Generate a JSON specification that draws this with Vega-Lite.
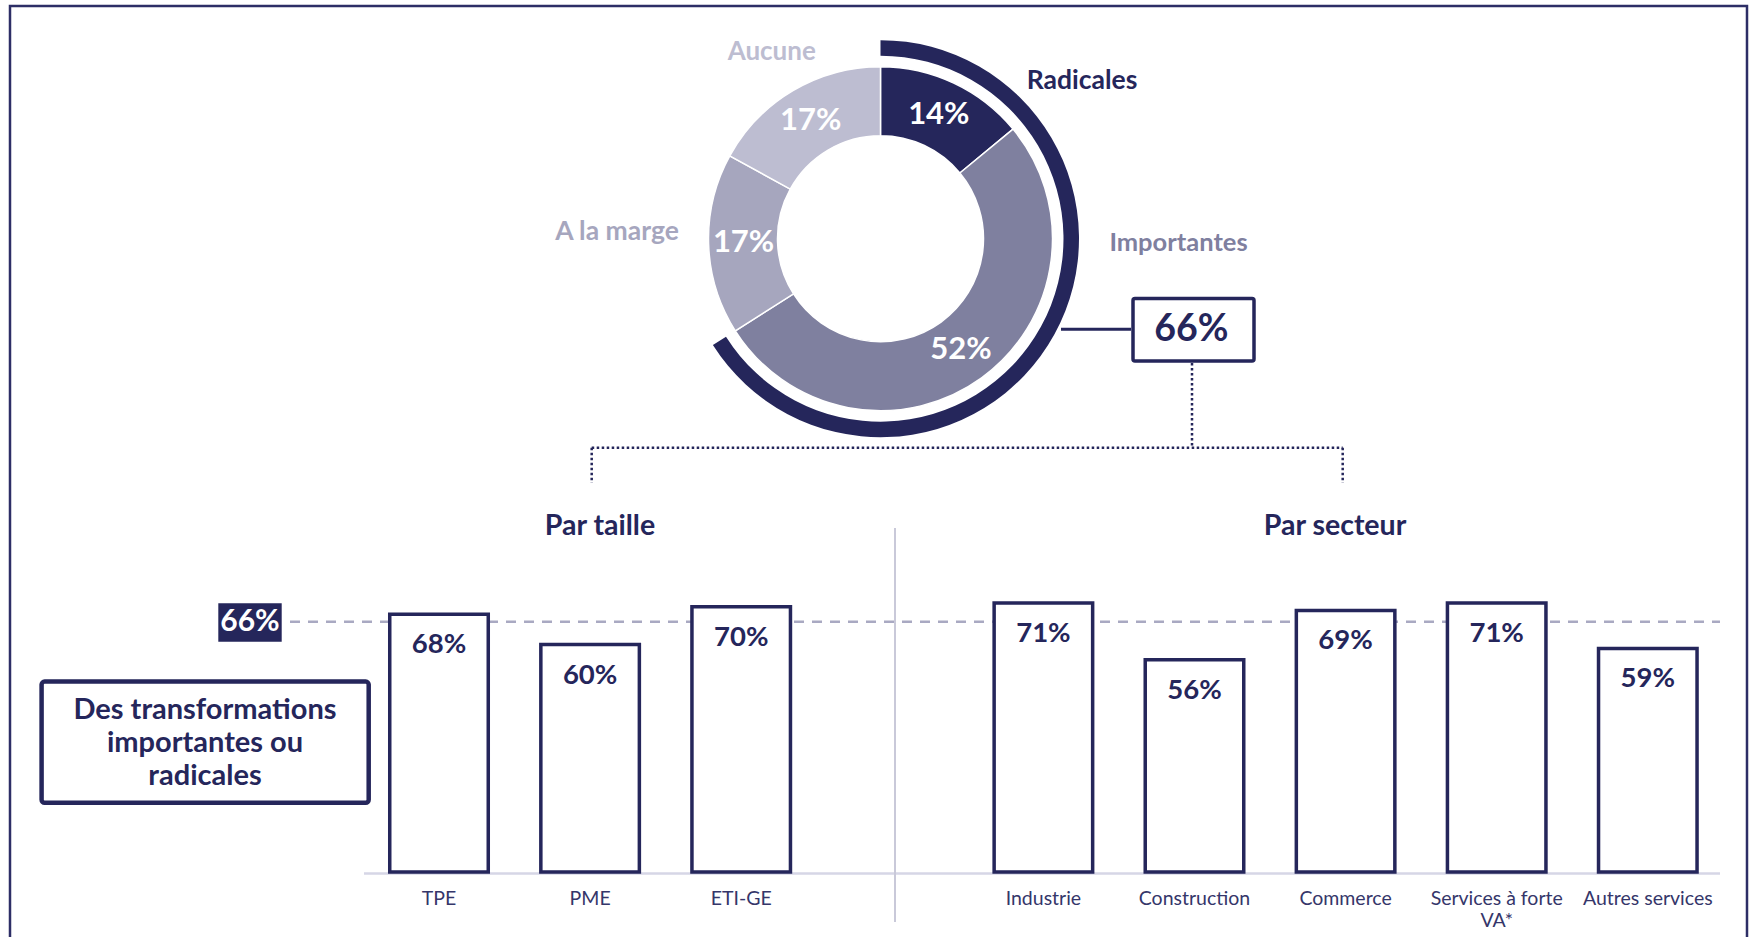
{
  "$schema": "https://vega.github.io/schema/vega-lite/v6.json",
  "width": 1755,
  "height": 937,
  "autosize": {"type": "fit", "contains": "padding"},
  "padding": 0,
  "background": "white",
  "config": {"view": {"stroke": null}, "font": "Lato", "text": {"font": "Lato"}},
  "datasets": {
    "repartition": [
      {"reponse": "Radicales", "part": 0.14, "rang": 1},
      {"reponse": "Importantes", "part": 0.52, "rang": 2},
      {"reponse": "A la marge", "part": 0.17, "rang": 3},
      {"reponse": "Aucune", "part": 0.17, "rang": 4}
    ],
    "transformation": [
      {"groupe": "Par taille", "cat": "TPE", "val": 0.68},
      {"groupe": "Par taille", "cat": "PME", "val": 0.60},
      {"groupe": "Par taille", "cat": "ETI-GE", "val": 0.70},
      {"groupe": "Par secteur", "cat": "Industrie", "val": 0.71},
      {"groupe": "Par secteur", "cat": "Construction", "val": 0.56},
      {"groupe": "Par secteur", "cat": "Commerce", "val": 0.69},
      {"groupe": "Par secteur", "cat": "Services à forte\nVA*", "val": 0.71},
      {"groupe": "Par secteur", "cat": "Autres services", "val": 0.59}
    ],
    "cadre": [{}]
  },
  "resolve": {"scale": {"x": "independent"}},
  "layer": [
    {
      "layer": [
        {
          "data": {"name": "cadre"},
          "mark": {"type": "rect", "fill": "transparent", "stroke": "#2d2e66", "strokeWidth": 2.5, "clip": true},
          "encoding": {
            "x": {"datum": -2.8392, "type": "quantitative", "scale": {"domain": [-2.90536, 8.70946], "nice": false, "zero": false}, "axis": null},
            "x2": {"datum": 8.6565},
            "y": {"datum": 2.285, "type": "quantitative", "scale": {"domain": [-0.171504, 2.300792], "nice": false, "zero": false}, "axis": null},
            "y2": {"datum": -0.25}
          }
        },
        {
          "data": {"name": "cadre"},
          "mark": {"type": "rule", "stroke": "#d6d6e6", "strokeWidth": 2.5},
          "encoding": {
            "x": {"datum": -0.4964, "type": "quantitative", "scale": {"domain": [-2.90536, 8.70946], "nice": false, "zero": false}, "axis": null},
            "x2": {"datum": 8.4778},
            "y": {"datum": -0.004, "type": "quantitative", "scale": {"domain": [-0.171504, 2.300792], "nice": false, "zero": false}, "axis": null}
          }
        },
        {
          "data": {"name": "cadre"},
          "mark": {"type": "rule", "stroke": "#c9c9d9", "strokeWidth": 2},
          "encoding": {
            "x": {"datum": 3.0179, "type": "quantitative", "scale": {"domain": [-2.90536, 8.70946], "nice": false, "zero": false}, "axis": null},
            "y": {"datum": 0.90765, "type": "quantitative", "scale": {"domain": [-0.171504, 2.300792], "nice": false, "zero": false}, "axis": null},
            "y2": {"datum": -0.13193}
          }
        },
        {
          "data": {"name": "repartition"},
          "transform": [{"filter": "datum.rang <= 2"}, {"aggregate": [{"op": "sum", "field": "part", "as": "total"}]}],
          "mark": {"type": "rule", "stroke": "#a9a9c2", "strokeWidth": 2.5, "strokeDash": [10, 8]},
          "encoding": {
            "x": {"datum": -0.9861, "type": "quantitative", "scale": {"domain": [-2.90536, 8.70946], "nice": false, "zero": false}, "axis": null},
            "x2": {"datum": 8.4778},
            "y": {"field": "total", "type": "quantitative", "scale": {"domain": [-0.171504, 2.300792], "nice": false, "zero": false}, "axis": null}
          }
        },
        {
          "data": {"name": "cadre"},
          "mark": {"type": "rect", "fill": "#25265b"},
          "encoding": {
            "x": {"datum": -1.4606, "type": "quantitative", "scale": {"domain": [-2.90536, 8.70946], "nice": false, "zero": false}, "axis": null},
            "x2": {"datum": -1.041},
            "y": {"datum": 0.709, "type": "quantitative", "scale": {"domain": [-0.171504, 2.300792], "nice": false, "zero": false}, "axis": null},
            "y2": {"datum": 0.6077}
          }
        },
        {
          "data": {"name": "repartition"},
          "transform": [{"filter": "datum.rang <= 2"}, {"aggregate": [{"op": "sum", "field": "part", "as": "total"}]}],
          "mark": {"type": "text", "fontSize": 30, "fontWeight": "bold", "color": "white", "align": "center", "baseline": "middle"},
          "encoding": {
            "x": {"datum": -1.2508, "type": "quantitative", "scale": {"domain": [-2.90536, 8.70946], "nice": false, "zero": false}, "axis": null},
            "y": {"field": "total", "type": "quantitative", "scale": {"domain": [-0.171504, 2.300792], "nice": false, "zero": false}, "axis": null},
            "text": {"field": "total", "type": "quantitative", "format": ".0%"}
          }
        },
        {
          "data": {"name": "cadre"},
          "mark": {"type": "rect", "fill": "white", "stroke": "#25265b", "strokeWidth": 4.5, "cornerRadius": 3},
          "encoding": {
            "x": {"datum": -2.6301, "type": "quantitative", "scale": {"domain": [-2.90536, 8.70946], "nice": false, "zero": false}, "axis": null},
            "x2": {"datum": -0.4653},
            "y": {"datum": 0.50237, "type": "quantitative", "scale": {"domain": [-0.171504, 2.300792], "nice": false, "zero": false}, "axis": null},
            "y2": {"datum": 0.18285}
          }
        },
        {
          "data": {"name": "cadre"},
          "mark": {"type": "text", "text": ["Des transformations", "importantes ou", "radicales"], "fontSize": 29, "fontWeight": "bold", "color": "#25265b", "align": "center", "baseline": "middle", "lineHeight": 33},
          "encoding": {
            "x": {"datum": -1.5486, "type": "quantitative", "scale": {"domain": [-2.90536, 8.70946], "nice": false, "zero": false}, "axis": null},
            "y": {"datum": 0.4274, "type": "quantitative", "scale": {"domain": [-0.171504, 2.300792], "nice": false, "zero": false}, "axis": null}
          }
        },
        {
          "data": {"name": "cadre"},
          "mark": {"type": "text", "text": "Par taille", "fontSize": 28.5, "fontWeight": "bold", "color": "#25265b", "align": "center", "baseline": "middle"},
          "encoding": {
            "x": {"datum": 1.0655, "type": "quantitative", "scale": {"domain": [-2.90536, 8.70946], "nice": false, "zero": false}, "axis": null},
            "y": {"datum": 0.91293, "type": "quantitative", "scale": {"domain": [-0.171504, 2.300792], "nice": false, "zero": false}, "axis": null}
          }
        },
        {
          "data": {"name": "cadre"},
          "mark": {"type": "text", "text": "Par secteur", "fontSize": 28.5, "fontWeight": "bold", "color": "#25265b", "align": "center", "baseline": "middle"},
          "encoding": {
            "x": {"datum": 5.930, "type": "quantitative", "scale": {"domain": [-2.90536, 8.70946], "nice": false, "zero": false}, "axis": null},
            "y": {"datum": 0.91293, "type": "quantitative", "scale": {"domain": [-0.171504, 2.300792], "nice": false, "zero": false}, "axis": null}
          }
        },
        {
          "data": {"name": "cadre"},
          "mark": {"type": "rule", "stroke": "#25265b", "strokeWidth": 2.5, "strokeDash": [2.5, 2.5]},
          "encoding": {
            "x": {"datum": 4.9835, "type": "quantitative", "scale": {"domain": [-2.90536, 8.70946], "nice": false, "zero": false}, "axis": null},
            "y": {"datum": 1.34301, "type": "quantitative", "scale": {"domain": [-0.171504, 2.300792], "nice": false, "zero": false}, "axis": null},
            "y2": {"datum": 1.11953}
          }
        },
        {
          "data": {"name": "cadre"},
          "mark": {"type": "rule", "stroke": "#25265b", "strokeWidth": 2.5, "strokeDash": [2.5, 2.5]},
          "encoding": {
            "x": {"datum": 1.0106, "type": "quantitative", "scale": {"domain": [-2.90536, 8.70946], "nice": false, "zero": false}, "axis": null},
            "x2": {"datum": 5.9808},
            "y": {"datum": 1.11953, "type": "quantitative", "scale": {"domain": [-0.171504, 2.300792], "nice": false, "zero": false}, "axis": null}
          }
        },
        {
          "data": {"name": "cadre"},
          "mark": {"type": "rule", "stroke": "#25265b", "strokeWidth": 2.5, "strokeDash": [2.5, 2.5]},
          "encoding": {
            "x": {"datum": 1.0106, "type": "quantitative", "scale": {"domain": [-2.90536, 8.70946], "nice": false, "zero": false}, "axis": null},
            "y": {"datum": 1.11953, "type": "quantitative", "scale": {"domain": [-0.171504, 2.300792], "nice": false, "zero": false}, "axis": null},
            "y2": {"datum": 1.02639}
          }
        },
        {
          "data": {"name": "cadre"},
          "mark": {"type": "rule", "stroke": "#25265b", "strokeWidth": 2.5, "strokeDash": [2.5, 2.5]},
          "encoding": {
            "x": {"datum": 5.9808, "type": "quantitative", "scale": {"domain": [-2.90536, 8.70946], "nice": false, "zero": false}, "axis": null},
            "y": {"datum": 1.11953, "type": "quantitative", "scale": {"domain": [-0.171504, 2.300792], "nice": false, "zero": false}, "axis": null},
            "y2": {"datum": 1.02639}
          }
        },
        {
          "data": {"name": "cadre"},
          "mark": {"type": "rule", "stroke": "#25265b", "strokeWidth": 3},
          "encoding": {
            "x": {"datum": 4.1165, "type": "quantitative", "scale": {"domain": [-2.90536, 8.70946], "nice": false, "zero": false}, "axis": null},
            "x2": {"datum": 4.5798},
            "y": {"datum": 1.43193, "type": "quantitative", "scale": {"domain": [-0.171504, 2.300792], "nice": false, "zero": false}, "axis": null}
          }
        },
        {
          "data": {"name": "cadre"},
          "mark": {"type": "rect", "fill": "white", "stroke": "#25265b", "strokeWidth": 3.5, "cornerRadius": 2},
          "encoding": {
            "x": {"datum": 4.593, "type": "quantitative", "scale": {"domain": [-2.90536, 8.70946], "nice": false, "zero": false}, "axis": null},
            "x2": {"datum": 5.3938},
            "y": {"datum": 1.51319, "type": "quantitative", "scale": {"domain": [-0.171504, 2.300792], "nice": false, "zero": false}, "axis": null},
            "y2": {"datum": 1.34828}
          }
        },
        {
          "data": {"name": "repartition"},
          "transform": [{"filter": "datum.rang <= 2"}, {"aggregate": [{"op": "sum", "field": "part", "as": "total"}]}],
          "mark": {"type": "text", "fontSize": 37.5, "fontWeight": "bold", "color": "#25265b", "align": "center", "baseline": "middle"},
          "encoding": {
            "x": {"datum": 4.98, "type": "quantitative", "scale": {"domain": [-2.90536, 8.70946], "nice": false, "zero": false}, "axis": null},
            "y": {"datum": 1.43074, "type": "quantitative", "scale": {"domain": [-0.171504, 2.300792], "nice": false, "zero": false}, "axis": null},
            "text": {"field": "total", "type": "quantitative", "format": ".0%"}
          }
        },
        {
          "data": {"name": "repartition"},
          "mark": {"type": "arc", "innerRadius": 103, "outerRadius": 172, "stroke": "white", "strokeWidth": 1.5},
          "encoding": {
            "x": {"datum": 2.9219, "type": "quantitative", "scale": {"domain": [-2.90536, 8.70946], "nice": false, "zero": false}, "axis": null},
            "y": {"datum": 1.67098, "type": "quantitative", "scale": {"domain": [-0.171504, 2.300792], "nice": false, "zero": false}, "axis": null},
            "theta": {"field": "part", "type": "quantitative", "stack": true},
            "order": {"field": "rang", "type": "quantitative"},
            "color": {"field": "reponse", "type": "nominal", "scale": {"domain": ["Radicales", "Importantes", "A la marge", "Aucune"], "range": ["#25265b", "#7f809f", "#a6a6be", "#bdbdd1"]}, "legend": null}
          }
        },
        {
          "data": {"name": "repartition"},
          "transform": [{"filter": "datum.rang <= 2"}, {"aggregate": [{"op": "sum", "field": "part", "as": "total"}]}],
          "mark": {"type": "arc", "innerRadius": 183, "outerRadius": 198.5, "color": "#25265b"},
          "encoding": {
            "x": {"datum": 2.9219, "type": "quantitative", "scale": {"domain": [-2.90536, 8.70946], "nice": false, "zero": false}, "axis": null},
            "y": {"datum": 1.67098, "type": "quantitative", "scale": {"domain": [-0.171504, 2.300792], "nice": false, "zero": false}, "axis": null},
            "theta": {"field": "total", "type": "quantitative", "stack": true}
          }
        },
        {
          "data": {"name": "repartition"},
          "mark": {"type": "text", "radius": 137, "fontSize": 31, "fontWeight": "bold", "color": "white", "align": "center", "baseline": "middle"},
          "encoding": {
            "x": {"datum": 2.9219, "type": "quantitative", "scale": {"domain": [-2.90536, 8.70946], "nice": false, "zero": false}, "axis": null},
            "y": {"datum": 1.67098, "type": "quantitative", "scale": {"domain": [-0.171504, 2.300792], "nice": false, "zero": false}, "axis": null},
            "theta": {"field": "part", "type": "quantitative", "stack": true},
            "order": {"field": "rang", "type": "quantitative"},
            "text": {"field": "part", "type": "quantitative", "format": ".0%"}
          }
        },
        {
          "data": {"name": "repartition"},
          "transform": [{"filter": "datum.reponse == 'Aucune'"}],
          "mark": {"type": "text", "fontSize": 26, "fontWeight": "bold", "align": "center", "baseline": "middle"},
          "encoding": {
            "x": {"datum": 2.2019, "type": "quantitative", "scale": {"domain": [-2.90536, 8.70946], "nice": false, "zero": false}, "axis": null},
            "y": {"datum": 2.16438, "type": "quantitative", "scale": {"domain": [-0.171504, 2.300792], "nice": false, "zero": false}, "axis": null},
            "text": {"field": "reponse"},
            "color": {"field": "reponse", "type": "nominal", "scale": {"domain": ["Radicales", "Importantes", "A la marge", "Aucune"], "range": ["#25265b", "#7f809f", "#a6a6be", "#bdbdd1"]}, "legend": null}
          }
        },
        {
          "data": {"name": "repartition"},
          "transform": [{"filter": "datum.reponse == 'Radicales'"}],
          "mark": {"type": "text", "fontSize": 26.5, "fontWeight": "bold", "align": "center", "baseline": "middle"},
          "encoding": {
            "x": {"datum": 4.2555, "type": "quantitative", "scale": {"domain": [-2.90536, 8.70946], "nice": false, "zero": false}, "axis": null},
            "y": {"datum": 2.08786, "type": "quantitative", "scale": {"domain": [-0.171504, 2.300792], "nice": false, "zero": false}, "axis": null},
            "text": {"field": "reponse"},
            "color": {"field": "reponse", "type": "nominal", "scale": {"domain": ["Radicales", "Importantes", "A la marge", "Aucune"], "range": ["#25265b", "#7f809f", "#a6a6be", "#bdbdd1"]}, "legend": null}
          }
        },
        {
          "data": {"name": "repartition"},
          "transform": [{"filter": "datum.reponse == 'Importantes'"}],
          "mark": {"type": "text", "fontSize": 25.5, "fontWeight": "bold", "align": "center", "baseline": "middle"},
          "encoding": {
            "x": {"datum": 4.8941, "type": "quantitative", "scale": {"domain": [-2.90536, 8.70946], "nice": false, "zero": false}, "axis": null},
            "y": {"datum": 1.66042, "type": "quantitative", "scale": {"domain": [-0.171504, 2.300792], "nice": false, "zero": false}, "axis": null},
            "text": {"field": "reponse"},
            "color": {"field": "reponse", "type": "nominal", "scale": {"domain": ["Radicales", "Importantes", "A la marge", "Aucune"], "range": ["#25265b", "#7f809f", "#a6a6be", "#bdbdd1"]}, "legend": null}
          }
        },
        {
          "data": {"name": "repartition"},
          "transform": [{"filter": "datum.reponse == 'A la marge'"}],
          "mark": {"type": "text", "fontSize": 26.5, "fontWeight": "bold", "align": "center", "baseline": "middle"},
          "encoding": {
            "x": {"datum": 1.178, "type": "quantitative", "scale": {"domain": [-2.90536, 8.70946], "nice": false, "zero": false}, "axis": null},
            "y": {"datum": 1.68945, "type": "quantitative", "scale": {"domain": [-0.171504, 2.300792], "nice": false, "zero": false}, "axis": null},
            "text": {"field": "reponse"},
            "color": {"field": "reponse", "type": "nominal", "scale": {"domain": ["Radicales", "Importantes", "A la marge", "Aucune"], "range": ["#25265b", "#7f809f", "#a6a6be", "#bdbdd1"]}, "legend": null}
          }
        }
      ]
    },
    {
      "data": {"name": "transformation"},
      "layer": [
        {
          "mark": {"type": "bar", "fill": "white", "stroke": "#25265b", "strokeWidth": 3.5},
          "encoding": {
            "x": {"field": "cat", "type": "nominal", "scale": {"type": "band", "domain": [" ", "TPE", "PME", "ETI-GE", "  ", "Industrie", "Construction", "Commerce", "Services à forte\nVA*", "Autres services"], "paddingInner": 0.348, "paddingOuter": 0.9815, "align": 0.8046}, "axis": null},
            "y": {"field": "val", "type": "quantitative", "scale": {"domain": [-0.171504, 2.300792], "nice": false, "zero": false}, "axis": null}
          }
        },
        {
          "mark": {"type": "text", "fontSize": 27.5, "fontWeight": "bold", "color": "#25265b", "align": "center", "baseline": "middle", "dy": 31},
          "encoding": {
            "x": {"field": "cat", "type": "nominal", "scale": {"type": "band", "domain": [" ", "TPE", "PME", "ETI-GE", "  ", "Industrie", "Construction", "Commerce", "Services à forte\nVA*", "Autres services"], "paddingInner": 0.348, "paddingOuter": 0.9815, "align": 0.8046}, "axis": null},
            "y": {"field": "val", "type": "quantitative", "scale": {"domain": [-0.171504, 2.300792], "nice": false, "zero": false}, "axis": null},
            "text": {"field": "val", "type": "quantitative", "format": ".0%"}
          }
        },
        {
          "mark": {"type": "text", "fontSize": 19.5, "color": "#35366a", "align": "center", "baseline": "top", "lineBreak": "\n", "lineHeight": 22},
          "encoding": {
            "x": {"field": "cat", "type": "nominal", "scale": {"type": "band", "domain": [" ", "TPE", "PME", "ETI-GE", "  ", "Industrie", "Construction", "Commerce", "Services à forte\nVA*", "Autres services"], "paddingInner": 0.348, "paddingOuter": 0.9815, "align": 0.8046}, "axis": null},
            "y": {"datum": -0.0472, "type": "quantitative", "scale": {"domain": [-0.171504, 2.300792], "nice": false, "zero": false}, "axis": null},
            "text": {"field": "cat"}
          }
        }
      ]
    }
  ]
}
